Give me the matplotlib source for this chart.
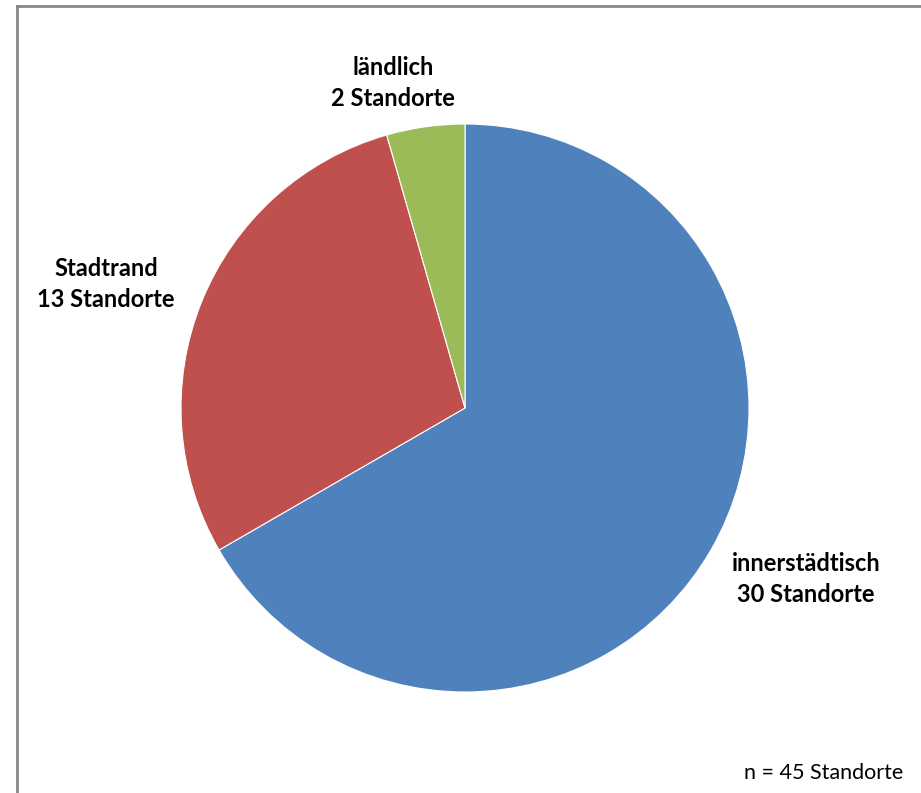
import matplotlib
matplotlib.use("Agg")
import matplotlib.pyplot as plt
from matplotlib.lines import Line2D

categories = ["innerstädtisch", "Stadtrand", "ländlich"]
values = [30, 13, 2]
colors = ["#4F81BD", "#C0504D", "#9BBB59"]
total_label = "n = 45 Standorte"

W, H = 921, 793
fig = plt.figure(figsize=(W / 100, H / 100), dpi=100)
fig.patch.set_facecolor("white")

cx, cy, r = 465, 408, 284
ax = fig.add_axes([(cx - r) / W, (H - cy - r) / H, 2 * r / W, 2 * r / H])
ax.pie(values, colors=colors, startangle=90, counterclock=False, radius=1,
       wedgeprops=dict(linewidth=0.8, edgecolor="white"))
ax.set_xlim(-1, 1)
ax.set_ylim(-1, 1)
ax.set_axis_off()

font = ["Lato", "DejaVu Sans"]
label_pos = {"innerstädtisch": (806, 579), "Stadtrand": (106, 284), "ländlich": (393, 83)}
for cat, val in zip(categories, values):
    x, y = label_pos[cat]
    fig.text(x / W, 1 - y / H, f"{cat}\n{val} Standorte", ha="center", va="center",
             fontsize=17, fontweight="bold", family=font, linespacing=1.42, color="black")

fig.text(903 / W, 1 - 773 / H, total_label, ha="right", va="center", fontsize=15.5,
         family=font, color="black")

# chart frame
fig.add_artist(Line2D([17 / W, 17 / W], [0, 1 - 6 / H], transform=fig.transFigure,
                      color="#888888", linewidth=2))
fig.add_artist(Line2D([17 / W, 1], [1 - 6 / H, 1 - 6 / H], transform=fig.transFigure,
                      color="#888888", linewidth=2))

fig.savefig("out.png", dpi=100, facecolor="white")
